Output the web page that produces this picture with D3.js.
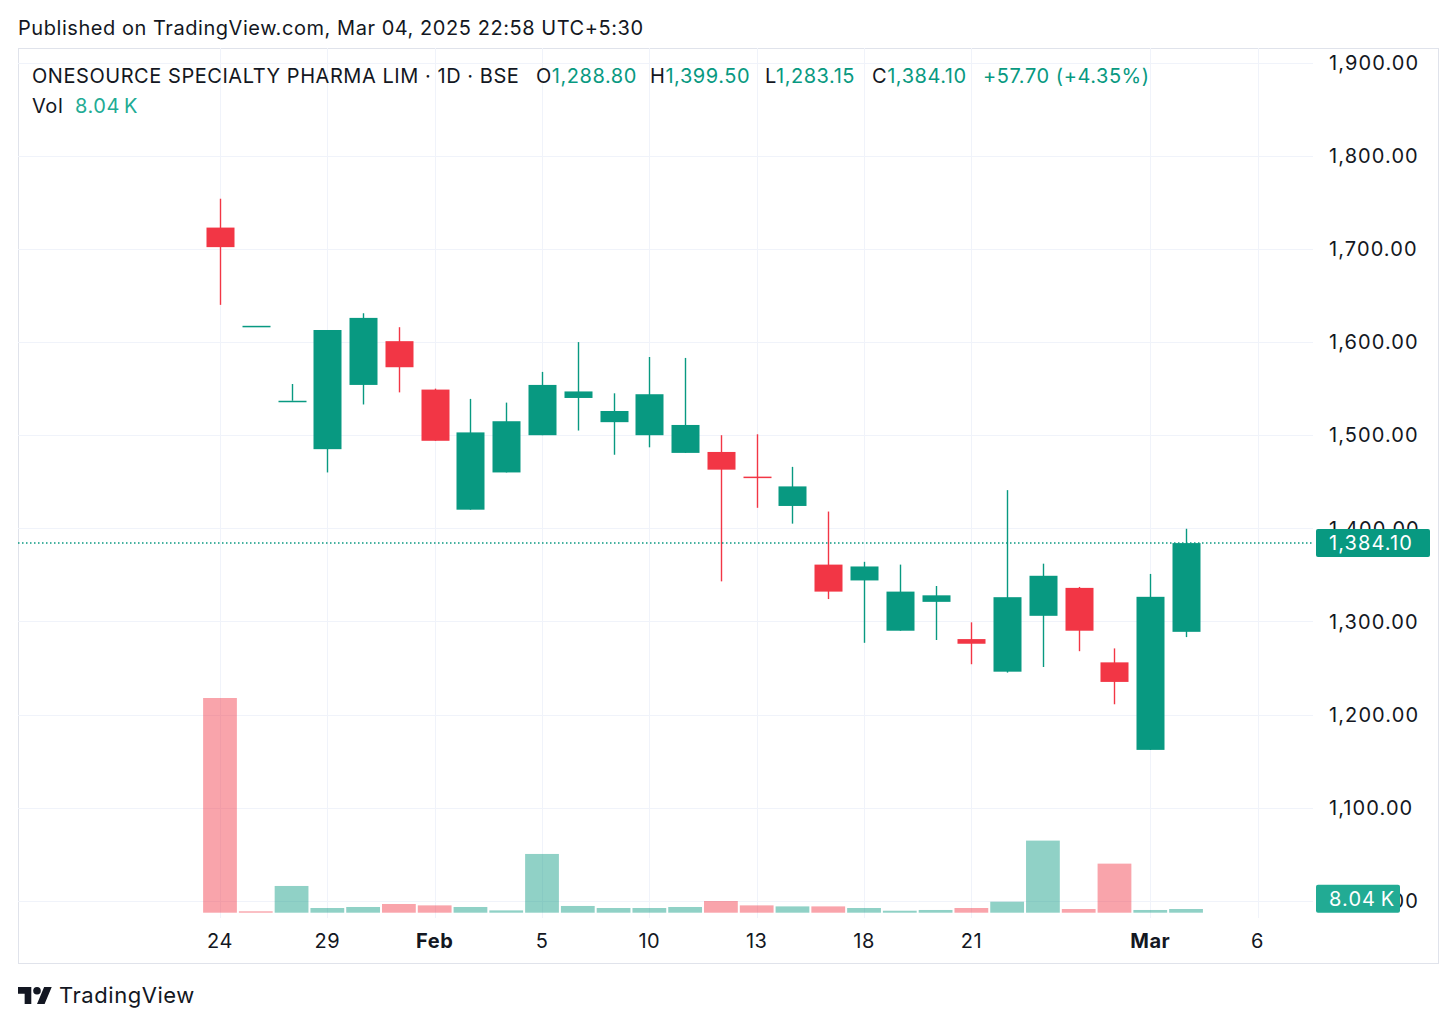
<!DOCTYPE html>
<html>
<head>
<meta charset="utf-8">
<script src="https://cdn.jsdelivr.net/npm/d3@7"></script>
<style>
    html, body { margin: 0; padding: 0; background: #fff; }
    svg { display: block; font-family: Inter, "Noto Sans", "DejaVu Sans", sans-serif; letter-spacing: 0.55px; }
    .num { letter-spacing: 1.1px; }
</style>
</head>
<body>
<div id="chart"></div>
<script>
// Daily bars, Jan 24 -> Mar 4 2025 (BSE sessions, incl. Feb 1 budget Saturday)
const dates = ['2025-01-24', '2025-01-27', '2025-01-28', '2025-01-29', '2025-01-30', '2025-01-31',
    '2025-02-01', '2025-02-03', '2025-02-04', '2025-02-05', '2025-02-06', '2025-02-07',
    '2025-02-10', '2025-02-11', '2025-02-12', '2025-02-13', '2025-02-14', '2025-02-17',
    '2025-02-18', '2025-02-19', '2025-02-20', '2025-02-21', '2025-02-24', '2025-02-25',
    '2025-02-27', '2025-02-28', '2025-03-03', '2025-03-04'];

const opens  = [1723, 1617.5, 1537, 1485, 1554, 1601, 1549, 1420, 1460, 1500, 1540, 1514,
    1500, 1481, 1482, 1455.5, 1424, 1361, 1344, 1290, 1321, 1281, 1246, 1306,
    1336, 1256, 1162, 1288.80];
const highs  = [1754, 1617.5, 1555, 1613, 1631, 1616, 1550, 1539, 1535, 1568, 1600, 1545,
    1584, 1583, 1500, 1501, 1466, 1418, 1364, 1361, 1338, 1299, 1441, 1362,
    1337, 1271, 1351, 1399.50];
const lows   = [1640, 1617.5, 1537, 1460, 1533, 1546, 1494, 1420, 1460, 1500, 1505, 1479,
    1487, 1481, 1343, 1422, 1405, 1324, 1277, 1290, 1280, 1254, 1245, 1251,
    1268, 1211, 1162, 1283.15];
const closes = [1702, 1617.5, 1537, 1613, 1626, 1573, 1494, 1503, 1515, 1554, 1547, 1526,
    1544, 1511, 1463, 1455, 1445, 1332, 1359, 1332, 1328, 1276, 1326, 1349,
    1290, 1235, 1326.40, 1384.10];

// volume in thousands, and whether the volume bar is painted as "up"
const volumes = [466, 3, 58, 10.2, 12.4, 18.9, 15.9, 12.4, 5, 127.5, 14.6, 10.2,
    10.2, 12.4, 25.4, 15.9, 13.7, 13.7, 10.2, 4.3, 5.9, 10.2, 23.9, 156.5,
    8, 106.5, 5.9, 8.04];
const volumeUp = [false, false, true, true, true, false, false, true, true, true, true, true,
    true, true, false, false, true, false, true, true, true, false, true, true,
    false, false, true, true];

const priceTicks = [1000, 1100, 1200, 1300, 1400, 1500, 1600, 1700, 1800, 1900];
const timeTickIdx = [0, 3, 6, 9, 12, 15, 18, 21, 26, 29];
const timeTickLabels = ['24', '29', 'Feb', '5', '10', '13', '18', '21', 'Mar', '6'];
const timeTickBold = [false, false, true, false, false, false, false, false, true, false];

const UP = '#089981';
const DOWN = '#F23645';
const TEXT = '#131722';
const GRID = '#f0f3fa';

const width = 1456, height = 1026;
const frame = {left: 18, top: 48, right: 1438, bottom: 963};
const plotRight = 1313;
const plotBottom = 918;

const x = d3.scaleLinear().domain([0, 29]).range([220, 1257.6]);
const step = x(1) - x(0);
const y = d3.scaleLinear().domain([1000, 1900]).range([900.7, 62.8]);
const yVol = d3.scaleLinear().domain([0, d3.max(volumes)]).range([912.7, 698]);

const fmt = d3.format(',.2f');

const svg = d3.select('#chart').append('svg')
    .attr('width', width)
    .attr('height', height);

svg.append('text')
    .attr('x', 18)
    .attr('y', 35)
    .attr('font-size', 20)
    .attr('fill', TEXT)
    .text('Published on TradingView.com, Mar 04, 2025 22:58 UTC+5:30');

// frame
svg.append('rect')
    .attr('x', frame.left + 0.5)
    .attr('y', frame.top + 0.5)
    .attr('width', frame.right - frame.left)
    .attr('height', frame.bottom - frame.top)
    .attr('fill', 'none')
    .attr('stroke', '#e0e3eb');

// grid
svg.append('g')
    .selectAll('line')
    .data(priceTicks)
    .join('line')
    .attr('x1', frame.left)
    .attr('x2', plotRight)
    .attr('y1', d => Math.round(y(d)) + 0.5)
    .attr('y2', d => Math.round(y(d)) + 0.5)
    .attr('stroke', GRID);

svg.append('g')
    .selectAll('line')
    .data(timeTickIdx)
    .join('line')
    .attr('x1', d => Math.round(x(d)) + 0.5)
    .attr('x2', d => Math.round(x(d)) + 0.5)
    .attr('y1', frame.top)
    .attr('y2', plotBottom)
    .attr('stroke', GRID);

// volume
svg.append('g')
    .selectAll('rect')
    .data(volumes)
    .join('rect')
    .attr('x', (d, i) => x(i) - step / 2 + 1)
    .attr('width', step - 2)
    .attr('y', d => yVol(d))
    .attr('height', d => yVol(0) - yVol(d))
    .attr('fill', (d, i) => volumeUp[i] ? UP : DOWN)
    .attr('fill-opacity', 0.45);

// candles
const candles = svg.append('g')
    .selectAll('g')
    .data(dates)
    .join('g')
    .attr('fill', (d, i) => closes[i] >= opens[i] ? UP : DOWN)
    .attr('stroke', (d, i) => closes[i] >= opens[i] ? UP : DOWN);

const bodyW = Math.round(step * 0.77);

candles.append('line')
    .attr('x1', (d, i) => Math.round(x(i)) + 0.5)
    .attr('x2', (d, i) => Math.round(x(i)) + 0.5)
    .attr('y1', (d, i) => y(highs[i]))
    .attr('y2', (d, i) => y(lows[i]))
    .attr('stroke-width', 1.4);

candles.append('rect')
    .attr('x', (d, i) => Math.round(x(i)) + 0.5 - bodyW / 2)
    .attr('width', bodyW)
    .attr('y', (d, i) => y(Math.max(opens[i], closes[i])))
    .attr('height', (d, i) => Math.max(1.5, Math.abs(y(opens[i]) - y(closes[i]))))
    .attr('stroke', 'none');

// last price line
const last = closes[closes.length - 1];
svg.append('line')
    .attr('x1', frame.left)
    .attr('x2', plotRight)
    .attr('y1', y(last))
    .attr('y2', y(last))
    .attr('stroke', UP)
    .attr('stroke-width', 1.5)
    .attr('stroke-dasharray', '1.5 2.5');

// price axis
const yAxis = svg.append('g');
yAxis.selectAll('text')
    .data(priceTicks)
    .join('text')
    .attr('class', 'num')
    .attr('x', 1329)
    .attr('y', d => y(d))
    .attr('dy', '0.36em')
    .attr('font-size', 20)
    .attr('fill', TEXT)
    .text(d => fmt(d));

function axisBadge(yPos, w, color, label) {
    const g = svg.append('g');
    g.append('rect')
        .attr('x', 1316)
        .attr('y', yPos - 14)
        .attr('width', w)
        .attr('height', 28)
        .attr('rx', 2)
        .attr('fill', color);
    g.append('text')
        .attr('class', 'num')
        .attr('x', 1329)
        .attr('y', yPos)
        .attr('dy', '0.36em')
        .attr('font-size', 20)
        .attr('fill', '#fff')
        .text(label);
}

axisBadge(y(last), 114, UP, fmt(last));
const lastVol = volumes[volumes.length - 1];
axisBadge(Math.min(yVol(lastVol), yVol(0) - 14), 84, '#22ab94', lastVol.toFixed(2) + '\u2009K');

// time axis
svg.append('g')
    .selectAll('text')
    .data(timeTickIdx)
    .join('text')
    .attr('x', d => x(d))
    .attr('y', 948)
    .attr('text-anchor', 'middle')
    .attr('font-size', 20)
    .attr('font-weight', (d, i) => timeTickBold[i] ? 700 : 400)
    .attr('fill', TEXT)
    .text((d, i) => timeTickLabels[i]);

// legend
const n = closes.length - 1;
const chg = closes[n] - closes[n - 1];
const legend = svg.append('text')
    .attr('y', 83)
    .attr('font-size', 20)
    .attr('fill', TEXT);
legend.append('tspan').attr('x', 32).text('ONESOURCE SPECIALTY PHARMA LIM \u00b7 1D \u00b7 BSE');
[['O', opens[n], 536], ['H', highs[n], 650], ['L', lows[n], 765], ['C', closes[n], 872]].forEach(([k, v, px]) => {
    legend.append('tspan').attr('x', px).text(k);
    legend.append('tspan').attr('fill', UP).text(fmt(v));
});
legend.append('tspan')
    .attr('x', 983)
    .attr('fill', UP)
    .text('+' + chg.toFixed(2) + ' (+' + (chg / closes[n - 1] * 100).toFixed(2) + '%)');

const volLegend = svg.append('text')
    .attr('y', 113)
    .attr('font-size', 20)
    .attr('fill', TEXT);
volLegend.append('tspan').attr('x', 32).text('Vol');
volLegend.append('tspan').attr('x', 75).attr('fill', '#22ab94').text(lastVol.toFixed(2) + '\u2009K');

// footer logo
const logo = svg.append('g')
    .attr('transform', 'translate(18,983.2) scale(0.95)')
    .attr('fill', TEXT);
logo.append('path').attr('d', 'M14 22H7V11H0V4h14v18ZM28 22h-8l7.5-18h8L28 22Z');
logo.append('circle').attr('cx', 20).attr('cy', 8).attr('r', 4);

svg.append('text')
    .attr('x', 59)
    .attr('y', 1003)
    .attr('font-size', 22)
    .attr('fill', TEXT)
    .text('TradingView');
</script>
</body>
</html>
